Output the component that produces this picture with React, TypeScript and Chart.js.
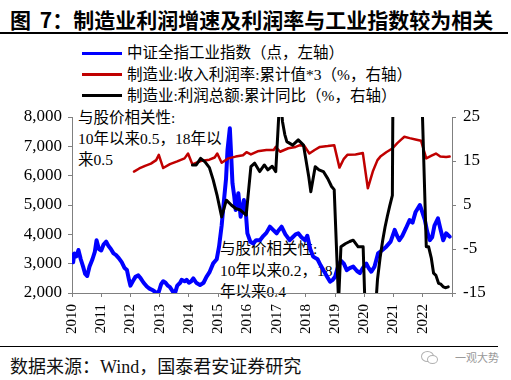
import React, { useEffect, useRef } from "react";
import { Chart, registerables } from "chart.js";

Chart.register(...registerables);

const TITLE = "图 7：制造业利润增速及利润率与工业指数较为相关";
const LEGEND_LABELS = [
  "中证全指工业指数（点，左轴）",
  "制造业:收入利润率:累计值*3（%，右轴）",
  "制造业:利润总额:累计同比（%，右轴）",
];
const LEGEND_COLORS = ["#0000FF", "#C00000", "#000000"];
const SOURCE = "数据来源：Wind，国泰君安证券研究";
const WATERMARK = "一观大势";
const NOTE_1 = ["与股价相关性:", "10年以来0.5，18年以", "来0.5"];
const NOTE_2 = ["与股价相关性:", "10年以来0.2，18", "年以来0.4"];

const X_TICKS = [2010, 2011, 2012, 2013, 2014, 2015, 2016, 2017, 2018, 2019, 2020, 2021, 2022, 2023];
const LEFT_TICKS = [2000, 3000, 4000, 5000, 6000, 7000, 8000];
const RIGHT_TICKS = [-15, -5, 5, 15, 25];

// 中证全指工业指数
const blueDates = [
  2010.0, 2010.04, 2010.08, 2010.15, 2010.22, 2010.3, 2010.38, 2010.45, 2010.52, 2010.6, 2010.7, 2010.78,
  2010.84, 2010.92, 2011.0, 2011.08, 2011.17, 2011.25, 2011.33, 2011.42, 2011.5, 2011.6, 2011.7, 2011.8,
  2011.88, 2011.95, 2012.0, 2012.08, 2012.17, 2012.27, 2012.35, 2012.45, 2012.56, 2012.65, 2012.75, 2012.83,
  2012.9, 2012.95, 2013.05, 2013.12, 2013.2, 2013.28, 2013.35, 2013.45, 2013.52, 2013.6, 2013.7, 2013.75,
  2013.85, 2013.92, 2014.0, 2014.08, 2014.15, 2014.25, 2014.38, 2014.5, 2014.6, 2014.7, 2014.83, 2014.95,
  2015.03, 2015.12, 2015.2, 2015.27, 2015.32, 2015.4, 2015.45, 2015.49, 2015.55, 2015.6, 2015.69, 2015.77,
  2015.83, 2015.88, 2015.95, 2016.0, 2016.1, 2016.2, 2016.3, 2016.43, 2016.55, 2016.65, 2016.77, 2016.88,
  2017.0, 2017.08, 2017.17, 2017.3, 2017.45, 2017.55, 2017.65, 2017.74, 2017.85, 2017.97, 2018.05, 2018.15,
  2018.25, 2018.4, 2018.5, 2018.6, 2018.7, 2018.83, 2018.92, 2019.0, 2019.1, 2019.2, 2019.3, 2019.4,
  2019.5, 2019.62, 2019.75, 2019.85, 2019.95, 2020.07, 2020.15, 2020.24, 2020.35, 2020.47, 2020.6, 2020.75,
  2020.9, 2021.04, 2021.12, 2021.2, 2021.3, 2021.42, 2021.55, 2021.65, 2021.75, 2021.9, 2021.97, 2022.07,
  2022.15, 2022.24, 2022.32, 2022.4, 2022.52, 2022.6, 2022.7, 2022.8, 2022.92,
];
const blueValues = [
  3300, 3050, 3350, 3250, 3465, 3150, 2900, 2650, 2580, 2900, 3150, 3400,
  3800, 3500, 3450, 3650, 3750, 3600, 3500, 3350, 3300, 3190, 3050, 2850,
  2780, 2450, 2250, 2400, 2550, 2600, 2500, 2350, 2220, 2150, 2100, 2050,
  2000, 1980, 2300, 2400, 2350, 2250, 2200, 2050, 1980, 2250, 2350, 2450,
  2400, 2450, 2350, 2400, 2500, 2350, 2270, 2350, 2550, 2700, 3010, 3150,
  3580, 4300, 5170, 5900, 6875, 7614, 6600, 5740, 5300, 4830, 5400, 4600,
  4900, 5170, 4700, 4035, 3750, 3690, 3800, 3800, 3950, 4050, 4260, 4150,
  4035, 4150, 4260, 4000, 3800, 3900, 4000, 4035, 3900, 3800, 3950, 3500,
  3240, 3150, 2950, 2780, 2600, 2385, 2450, 2555, 2900, 3100, 3000, 2780,
  2850, 2900, 2750, 2680, 2850, 3000, 2850, 2725, 2900, 3350, 3450, 3580,
  3750, 4150, 3950, 3800, 3950, 4200, 4490, 4400, 4750, 5000, 4800, 4490,
  4100, 3800, 3900, 4300, 4545, 4200, 3800, 4035, 3920,
];

// 制造业:收入利润率:累计值*3
const redDates = [
  2012.12, 2012.3, 2012.5, 2012.7, 2012.88, 2012.97, 2013.12, 2013.35, 2013.6, 2013.85, 2013.97,
  2014.12, 2014.4, 2014.7, 2014.88, 2014.97, 2015.12, 2015.35, 2015.6, 2015.85, 2015.97,
  2016.12, 2016.35, 2016.65, 2016.9, 2016.97, 2017.12, 2017.4, 2017.65, 2017.8, 2017.95,
  2018.12, 2018.3, 2018.48, 2018.75, 2018.97, 2019.15, 2019.3, 2019.42, 2019.7, 2019.95,
  2020.12, 2020.29, 2020.45, 2020.55, 2020.75, 2020.97, 2021.12, 2021.25, 2021.37, 2021.55,
  2021.75, 2021.94, 2022.12, 2022.3, 2022.45, 2022.6, 2022.8, 2022.92,
];
const redValues = [
  12.6, 13.3, 13.9, 14.4, 15.2, 16.4, 13.4, 14.3, 14.9, 15.6, 16.7,
  14.2, 15.0, 15.3, 15.8, 16.7, 14.6, 15.6, 16.0, 16.3, 17.0,
  16.5, 17.2, 17.5, 17.5, 18.2, 17.1, 17.9, 18.2, 18.6, 18.4,
  16.7, 17.5, 18.2, 18.4, 18.6, 13.5, 15.5, 16.4, 16.5, 16.8,
  8.8, 12.6, 15.2, 16.0, 17.0, 17.9, 19.0, 19.8, 20.5, 20.2,
  19.9, 19.6, 15.6, 16.2, 16.7, 16.0, 15.9, 16.0,
];

// 制造业:利润总额:累计同比
const blackDates = [
  2014.12, 2014.25, 2014.4, 2014.55, 2014.7, 2014.83, 2014.97, 2015.12, 2015.28, 2015.45, 2015.6, 2015.75,
  2015.96, 2016.12, 2016.25, 2016.42, 2016.58, 2016.7, 2016.85, 2016.97, 2017.12, 2017.2, 2017.28, 2017.35,
  2017.55, 2017.74, 2017.92, 2018.1, 2018.17, 2018.32, 2018.45, 2018.6, 2018.75, 2018.88, 2018.97, 2019.12,
  2019.2, 2019.35, 2019.5, 2019.62, 2019.79, 2019.96, 2020.12, 2020.2, 2020.29, 2020.37, 2020.45, 2020.54,
  2020.63, 2020.71, 2020.79, 2020.87, 2020.96, 2021.12, 2021.2, 2021.29, 2021.37, 2021.45, 2021.54, 2021.62,
  2021.71, 2021.79, 2021.87, 2021.96, 2022.12, 2022.2, 2022.29, 2022.37, 2022.45, 2022.54, 2022.62, 2022.7,
  2022.79, 2022.87,
];
const blackValues = [
  14.1, 14.1, 15.6, 14.8, 13.5, 10.7, 7.0, 2.3, 6.1, 5.0, 4.2, 3.9,
  2.7, 13.7, 14.5, 12.6, 14.1, 13.0, 13.8, 12.6, 31, 24, 21, 19.4,
  18.6, 19.8, 18.6, 11.4, 8.0, 13.7, 13.0, 12.6, 11.0, 9.2, 8.5, -17,
  -4.5, -3.8, -3.3, -3.0, -4.5, -4.5, -38, -37, -29, -20, -12, -7,
  -3, 0, 2.5, 4.8, 7.2, 200, 140, 110, 90, 75, 60, 50,
  45, 40, 37, 32, -4.5, -4.5, -7, -10.5, -11, -12.8, -13, -13.6,
  -13.8, -13.6,
];

const SERIF = "'Liberation Serif', 'Times New Roman', 'Noto Sans CJK SC', serif";
const CJK = "'Noto Sans CJK SC', sans-serif";

const pts = (xs: number[], ys: number[]) => xs.map((x, i) => ({ x, y: ys[i] }));

export default function App() {
  const canvasRef = useRef<HTMLCanvasElement | null>(null);

  useEffect(() => {
    document.body.style.margin = "0";
    const canvas = canvasRef.current;
    if (!canvas) return;
    const axisColor = "#808080";
    const tickFont = { family: "'Liberation Serif', 'Times New Roman', serif", size: 17 };
    const chart = new Chart(canvas, {
      type: "line",
      data: {
        datasets: [
          {
            label: LEGEND_LABELS[0],
            data: pts(blueDates, blueValues),
            yAxisID: "y",
            borderColor: LEGEND_COLORS[0],
            borderWidth: 4,
            order: 3,
          },
          {
            label: LEGEND_LABELS[1],
            data: pts(redDates, redValues),
            yAxisID: "y1",
            borderColor: LEGEND_COLORS[1],
            borderWidth: 2.5,
            order: 2,
          },
          {
            label: LEGEND_LABELS[2],
            data: pts(blackDates, blackValues),
            yAxisID: "y1",
            borderColor: LEGEND_COLORS[2],
            borderWidth: 3,
            order: 1,
          },
        ],
      },
      options: {
        animation: false,
        responsive: false,
        devicePixelRatio: 1,
        layout: { padding: { top: 117, left: 0, right: 0, bottom: 0 } },
        elements: {
          point: { radius: 0 },
          line: { tension: 0, borderJoinStyle: "round", borderCapStyle: "round" },
        },
        plugins: { legend: { display: false }, tooltip: { enabled: false } },
        scales: {
          x: {
            type: "linear",
            min: 2010,
            max: 2023,
            afterBuildTicks: (axis: any) => {
              axis.ticks = X_TICKS.map((value) => ({ value }));
            },
            afterFit: (axis: any) => {
              axis.height = 87;
            },
            grid: { drawOnChartArea: false, drawTicks: true, tickLength: 4, color: axisColor },
            border: { display: true, color: axisColor, width: 1 },
            ticks: {
              autoSkip: false,
              maxRotation: 90,
              minRotation: 90,
              padding: 7,
              color: "#000",
              font: { family: "'Liberation Serif', 'Times New Roman', serif", size: 15 },
              callback: (v: any) => (Number(v) >= 2023 ? "" : String(v)),
            },
          },
          y: {
            type: "linear",
            position: "left",
            min: 2000,
            max: 8000,
            afterBuildTicks: (axis: any) => {
              axis.ticks = LEFT_TICKS.map((value) => ({ value }));
            },
            afterFit: (axis: any) => {
              axis.width = 72;
            },
            grid: { drawOnChartArea: false, drawTicks: true, tickLength: 4, color: axisColor },
            border: { display: true, color: axisColor, width: 1 },
            ticks: {
              padding: 6,
              color: "#000",
              font: tickFont,
              callback: (v: any) => Number(v).toLocaleString("en-US"),
            },
          },
          y1: {
            type: "linear",
            position: "right",
            min: -15,
            max: 25,
            afterBuildTicks: (axis: any) => {
              axis.ticks = RIGHT_TICKS.map((value) => ({ value }));
            },
            afterFit: (axis: any) => {
              axis.width = 59;
            },
            grid: { drawOnChartArea: false, drawTicks: true, tickLength: 4, color: axisColor },
            border: { display: true, color: axisColor, width: 1 },
            ticks: {
              padding: 7,
              color: "#000",
              font: tickFont,
              callback: (v: any) => String(v),
            },
          },
        },
      },
    } as any);
    return () => chart.destroy();
  }, []);

  const abs = (style: React.CSSProperties): React.CSSProperties => ({ position: "absolute", ...style });

  const legendRows = [53, 74.5, 95.5];
  const note1Rows = [117, 138, 159];
  const note2Rows = [248, 270, 291];

  return (
    <div
      style={{
        position: "fixed",
        left: 0,
        top: 0,
        width: 511,
        height: 380,
        background: "#fff",
        overflow: "hidden",
      }}
    >
      <div
        style={abs({
          left: 10,
          top: 7,
          height: 24,
          lineHeight: "24px",
          fontFamily: CJK,
          fontWeight: 700,
          fontSize: 21,
          color: "#000",
          whiteSpace: "pre",
          wordSpacing: 4,
        })}
      >
        {TITLE}
      </div>
      <div style={abs({ left: 0, top: 32, width: 508, height: 2, background: "#000" })} />

      {LEGEND_LABELS.map((label, i) => (
        <React.Fragment key={label}>
          <div
            style={abs({
              left: 82,
              top: legendRows[i] - 1.5,
              width: 40,
              height: 3,
              background: LEGEND_COLORS[i],
            })}
          />
          <div
            style={abs({
              left: 127,
              top: legendRows[i] - 10,
              height: 20,
              lineHeight: "20px",
              fontFamily: SERIF,
              fontSize: 15.5,
              color: "#000",
              whiteSpace: "nowrap",
            })}
          >
            {label}
          </div>
        </React.Fragment>
      ))}

      {NOTE_1.map((line, i) => (
        <div
          key={"n1" + i}
          style={abs({
            left: 78,
            top: note1Rows[i] - 10.5,
            height: 21,
            lineHeight: "21px",
            fontFamily: SERIF,
            fontSize: 15.5,
            color: "#000",
            whiteSpace: "nowrap",
          })}
        >
          {line}
        </div>
      ))}
      {NOTE_2.map((line, i) => (
        <div
          key={"n2" + i}
          style={abs({
            left: 220,
            top: note2Rows[i] - 10.5,
            height: 21,
            lineHeight: "21px",
            fontFamily: SERIF,
            fontSize: 15.5,
            color: "#000",
            whiteSpace: "nowrap",
          })}
        >
          {line}
        </div>
      ))}

      <canvas
        ref={canvasRef}
        width={511}
        height={380}
        style={abs({ left: 0, top: 0, width: 511, height: 380, zIndex: 1 })}
      />

      <div style={abs({ left: 0, top: 346, width: 498, height: 1, background: "#000" })} />
      <div
        style={abs({
          left: 10,
          top: 356,
          height: 22,
          lineHeight: "22px",
          fontFamily: SERIF,
          fontSize: 18,
          color: "#111",
          whiteSpace: "nowrap",
        })}
      >
        {SOURCE}
      </div>
      <div
        style={abs({
          left: 421,
          top: 351,
          width: 11,
          height: 9,
          borderRadius: "50%",
          border: "1px solid #b0b0b0",
        })}
      />
      <div
        style={abs({
          left: 427,
          top: 355,
          width: 9,
          height: 7,
          borderRadius: "50%",
          border: "1px solid #b0b0b0",
          background: "#fff",
        })}
      />
      <div
        style={abs({
          left: 455,
          top: 349,
          height: 16,
          lineHeight: "16px",
          fontFamily: CJK,
          fontSize: 11,
          color: "#9a9a9a",
          whiteSpace: "nowrap",
        })}
      >
        {WATERMARK}
      </div>
    </div>
  );
}
